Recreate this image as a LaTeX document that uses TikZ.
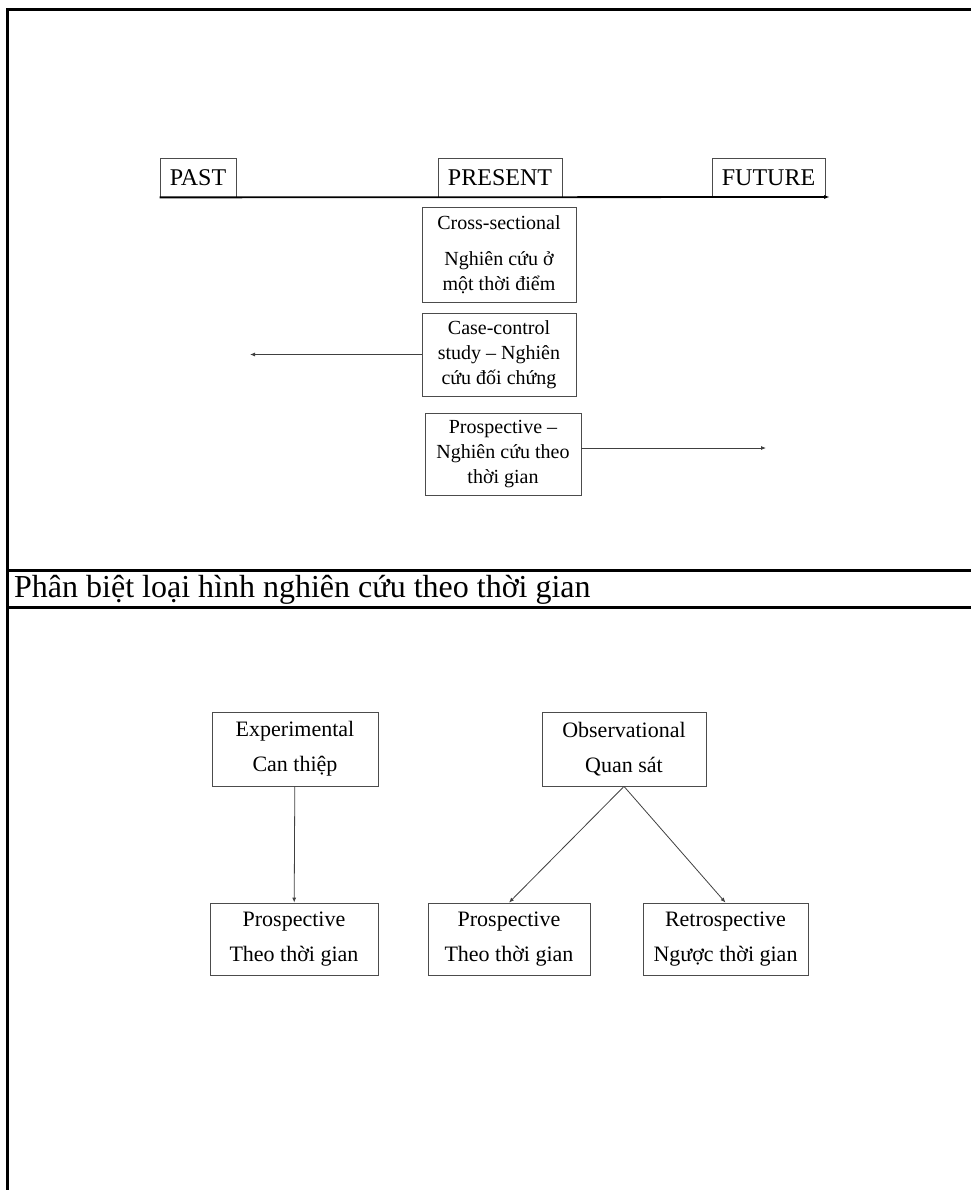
\documentclass[tikz,border=0pt]{standalone}
\usepackage{fontspec}
\setmainfont{Liberation Serif}
\usetikzlibrary{arrows.meta, positioning}

\begin{document}
\begin{tikzpicture}[
    x=1pt, y=-1pt,
    frame/.style={line width=3pt},
    tick/.style={rectangle, draw=black!70, line width=0.8pt, inner sep=0pt, minimum height=39pt, font=\fontsize{24}{26}\selectfont},
    study/.style={rectangle, draw=black!70, line width=0.8pt, inner sep=0pt, align=center, font=\fontsize{20}{25}\selectfont},
    kind/.style={rectangle, draw=black!70, line width=0.8pt, inner sep=0pt, align=center, font=\fontsize{22}{35}\selectfont},
    axis/.style={line width=1.8pt, -{Latex[length=6pt, width=4pt]}},
    link/.style={draw=black!75, line width=0.8pt, -{Latex[length=5pt, width=4pt]}},
    >=Stealth
]
\useasboundingbox (0,0) rectangle (971,1190);

% table frame
\draw[frame] (7.5,1190) -- (7.5,10) -- (971,10);
\draw[frame] (7.5,570) -- (971,570);
\draw[frame] (7.5,607) -- (971,607);
\node[anchor=base west, inner sep=0pt, font=\fontsize{32}{36}\selectfont] (caption) at (14,597) {Phân biệt loại hình nghiên cứu theo thời gian};

% time line
\node[tick, minimum width=76pt] (past) at (198,177.5) {PAST};
\node[tick, minimum width=124pt] (present) at (500,177.5) {PRESENT};
\node[tick, minimum width=113pt] (future) at (768.5,177.5) {FUTURE};
\coordinate (tend) at (830,197);
\draw[axis] (past.south west) -- (tend);

\node[study, minimum width=154pt, minimum height=95pt] (cross) at (499,254.5) {Cross-sectional\\[11pt]Nghiên cứu ở\\một thời điểm};
\node[study, minimum width=154pt, minimum height=83pt] (case) at (499,354.5) {Case-control\\study -- Nghiên\\cứu đối chứng};
\node[study, minimum width=156pt, minimum height=82pt] (prosp) at (503,454) {Prospective --\\Nghiên cứu theo\\thời gian};
\coordinate (pastend) at (250,354.5);
\coordinate (futend) at (766,448);
\draw[link] (case.west) -- (pastend);
\draw[link] (prosp.east |- futend) -- (futend);

% study types
\node[kind, minimum width=166pt, minimum height=74pt] (exper) at (295,749) {Experimental\\Can thiệp};
\node[kind, minimum width=164pt, minimum height=74pt] (observ) at (624,749) {Observational\\Quan sát};
\node[kind, minimum width=168pt, minimum height=72pt] (pros1) at (294,939) {Prospective\\Theo thời gian};
\node[kind, minimum width=162pt, minimum height=72pt] (pros2) at (509,939) {Prospective\\Theo thời gian};
\node[kind, minimum width=165pt, minimum height=72pt] (retro) at (725.5,939) {Retrospective\\Ngược thời gian};

\draw[link] (exper) -- (pros1);
\draw[link] (observ.south) -- (pros2.north);
\draw[link] (observ.south) -- (retro.north);
\end{tikzpicture}
\end{document}
